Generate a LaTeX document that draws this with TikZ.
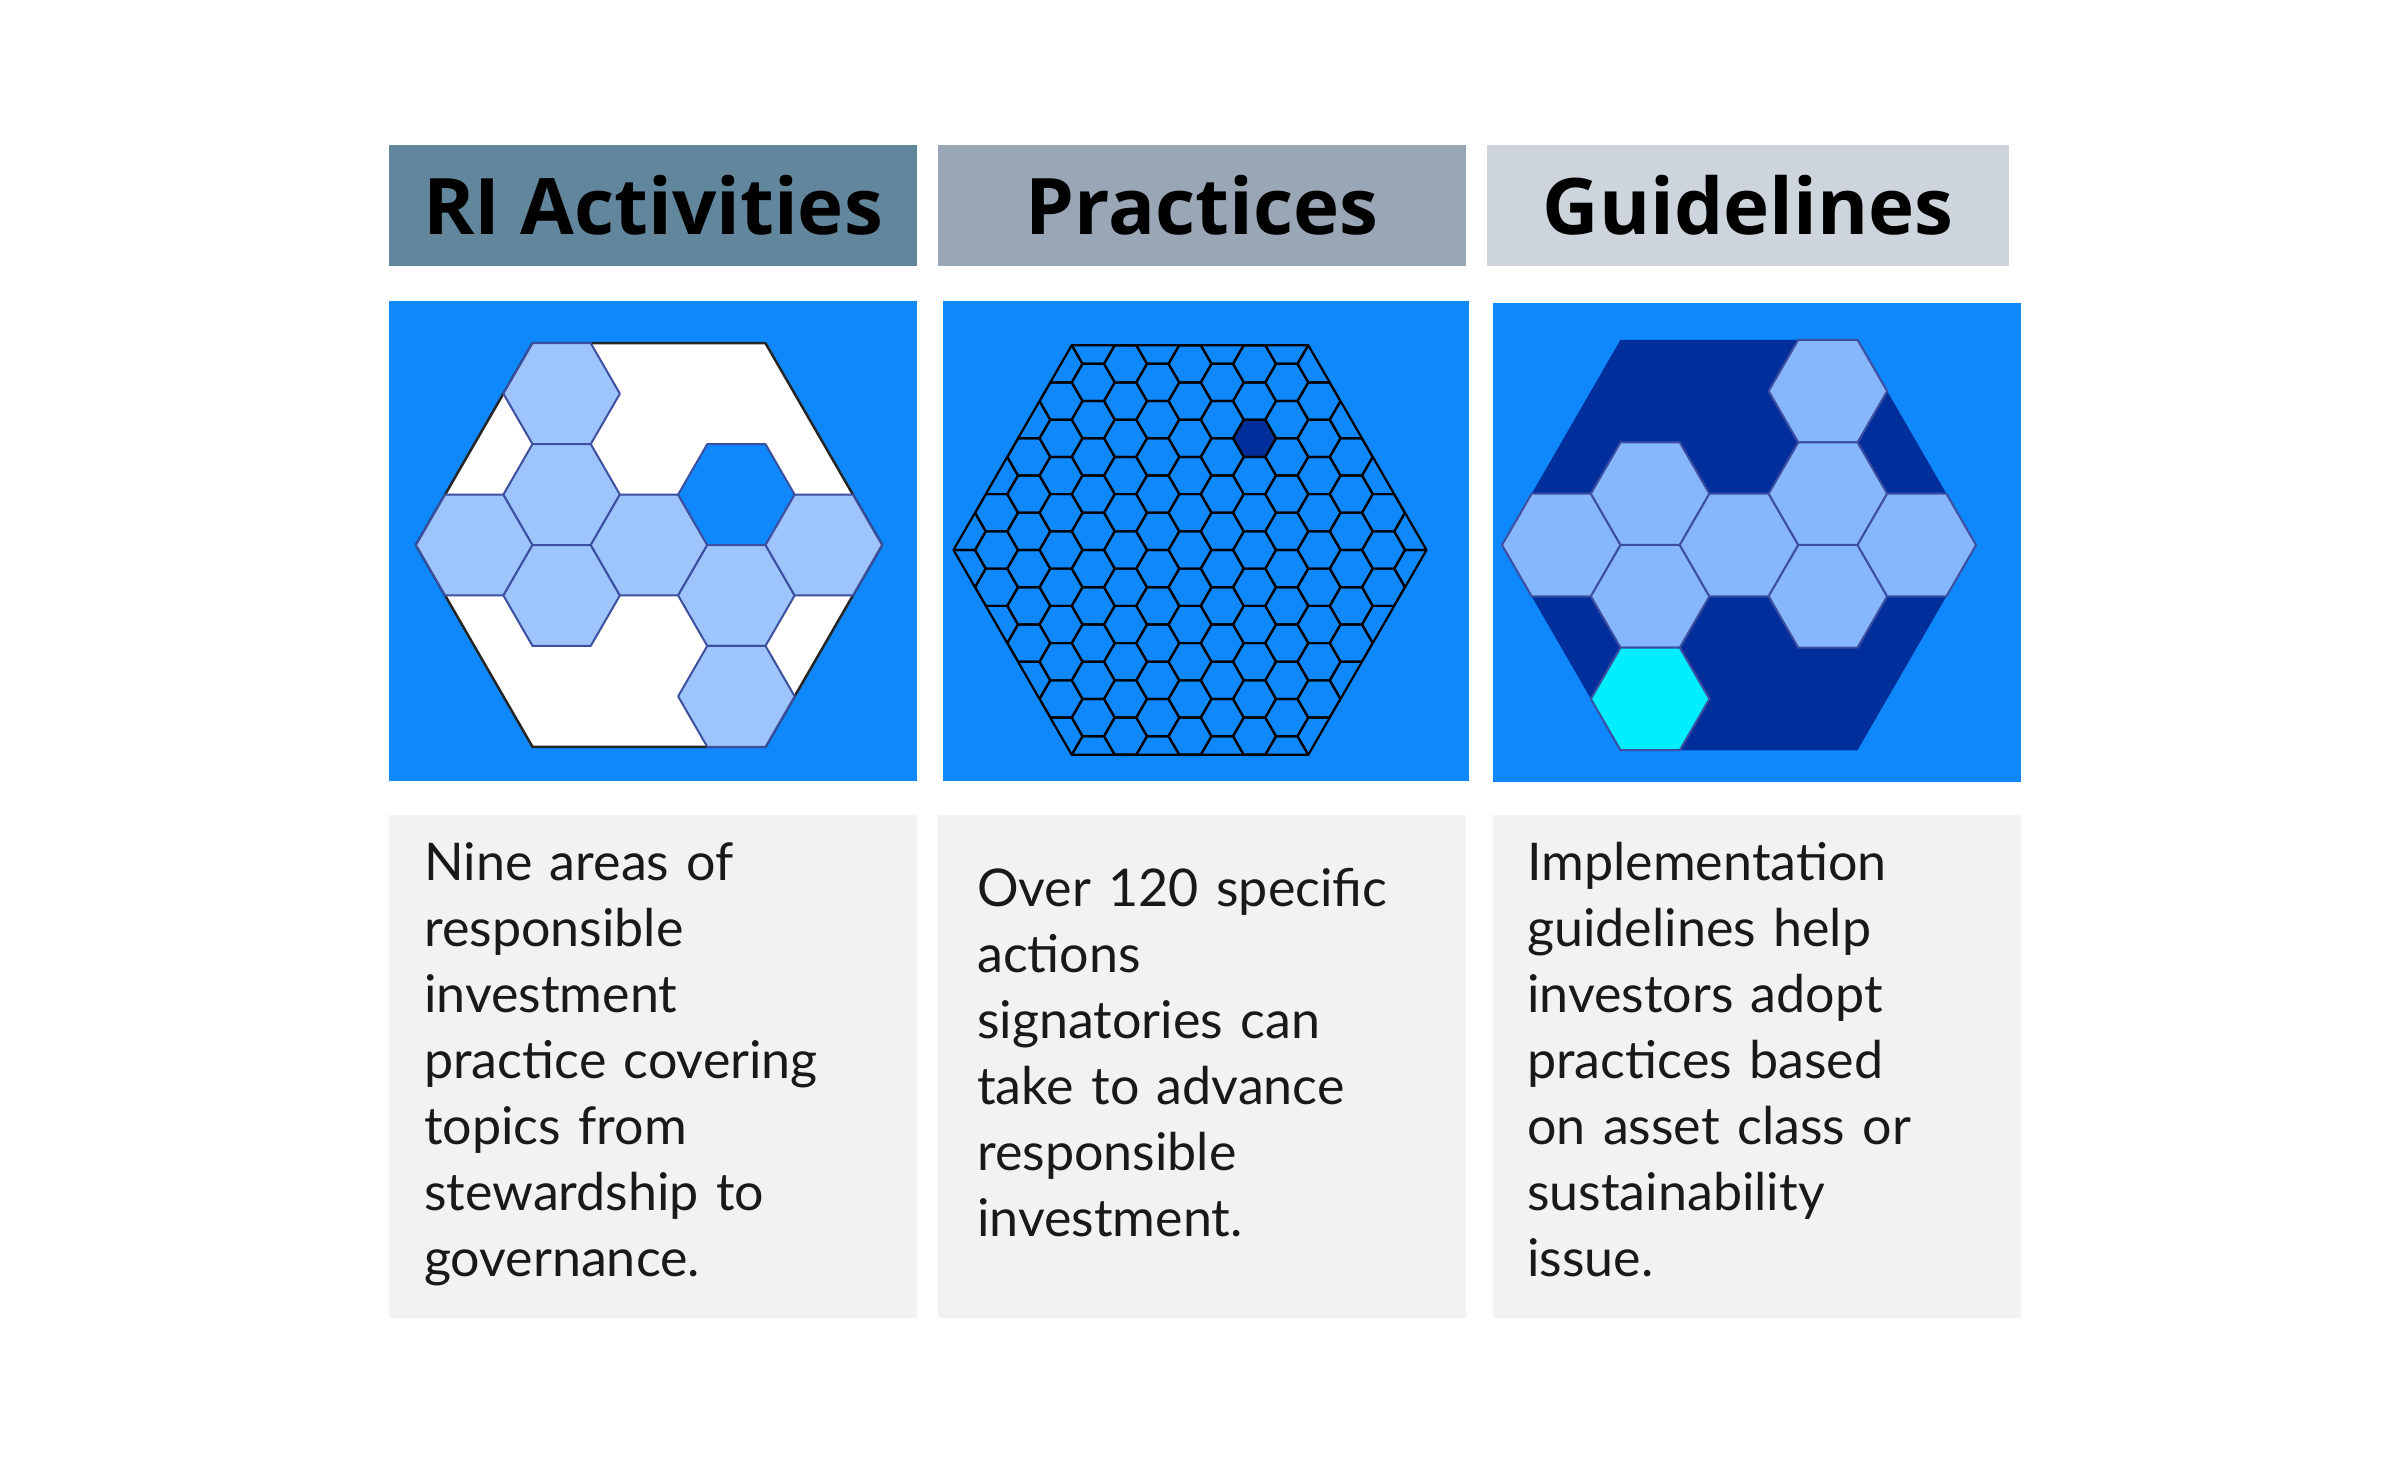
\documentclass[tikz,border=0pt]{standalone}
\usepackage{fontspec}
\setmainfont{Lato}
\newfontfamily\titlefont{Open Sans}
\definecolor{panelblue}{HTML}{0F88FC}
\definecolor{navy}{HTML}{002F9C}
\definecolor{lightA}{HTML}{9EC5FB}
\definecolor{lightB}{HTML}{86B6FB}
\definecolor{cyanhex}{HTML}{00EFFF}
\definecolor{headA}{HTML}{62869C}
\definecolor{headB}{HTML}{99A6B6}
\definecolor{headC}{HTML}{CED4DC}
\definecolor{boxgray}{HTML}{F2F2F2}
\definecolor{hexline}{HTML}{3D4FA0}
\newcommand\hexshape[3]{(#1+#3,#2) -- ++(120:#3) -- ++(180:#3) -- ++(240:#3) -- ++(300:#3) -- ++(0:#3) -- cycle}
\tikzset{
  headtext/.style={font=\titlefont\bfseries\fontsize{78}{90}\selectfont, text=black},
  bodytext/.style={font=\fontsize{52}{66}\selectfont, text=black!90, align=left, text width=470pt, inner sep=0pt, anchor=base west},
  smallhex/.style={draw=hexline, line width=2pt, line join=round},
}
\begin{document}
\begin{tikzpicture}[x=1pt,y=-1pt]
\useasboundingbox (0,0) rectangle (2400,1462);
% headers
\fill[headA] (389,145) rectangle (917,266);
\fill[headB] (938,145) rectangle (1466,266);
\fill[headC] (1487,145) rectangle (2009,266);
\node[headtext] (h1) at (653,205) {RI Activities};
\node[headtext] (h2) at (1202,205) {Practices};
\node[headtext] (h3) at (1748,205) {Guidelines};
% panels
\fill[panelblue] (389,301) rectangle (917,781);
\fill[panelblue] (943,301) rectangle (1469,781);
\fill[panelblue] (1493,303) rectangle (2021,782);
% panel 1
\def\cx{649}\def\cy{545}\def\r{58.25}\def\h{50.45}
\filldraw[fill=white, draw=black!85, line width=2.5pt, line join=round] \hexshape{\cx}{\cy}{4*\r};
\foreach \c/\k/\col in {-2/0/lightA,-1/-3/lightA,-1/-1/lightA,-1/1/lightA,0/0/lightA,1/-1/panelblue,1/1/lightA,1/3/lightA,2/0/lightA}{
  \filldraw[smallhex, fill=\col] \hexshape{\cx+1.5*\r*\c}{\cy+\h*\k}{\r};
}
% panel 2
\begin{scope}
\def\cx{1190}\def\cy{550}\def\r{21.5}\def\h{18.62}
\clip \hexshape{\cx}{\cy}{11*\r};
\fill[navy] \hexshape{\cx+3*\r}{\cy-6*\h}{\r};
\foreach \c in {-8,...,8}{
  \foreach \k in {-7,...,7}{
    \pgfmathsetmacro\yy{\cy+2*\h*\k+(mod(abs(\c),2))*\h}
    \draw[black, line width=2.2pt, line join=round] \hexshape{\cx+1.5*\r*\c}{\yy}{\r};
  }
}
\end{scope}
\draw[black, line width=2.2pt, line join=round] \hexshape{1190}{550}{11*21.5};
% panel 3
\def\cx{1739}\def\cy{545}\def\r{59.25}\def\h{51.3}
\fill[navy] \hexshape{\cx}{\cy}{4*\r};
\foreach \c/\k/\col in {-2/0/lightB,-1/-1/lightB,-1/1/lightB,-1/3/cyanhex,0/0/lightB,1/-3/lightB,1/-1/lightB,1/1/lightB,2/0/lightB}{
  \filldraw[smallhex, fill=\col] \hexshape{\cx+1.5*\r*\c}{\cy+\h*\k}{\r};
}
% text boxes
\fill[boxgray] (389,815) rectangle (917,1318);
\fill[boxgray] (938,815) rectangle (1466,1318);
\fill[boxgray] (1493,815) rectangle (2021,1318);
\node[bodytext] (t1) at (424,880) {Nine areas of\\responsible\\investment\\practice covering\\topics from\\stewardship to\\governance.};
\node[bodytext] (t2) at (977,906) {Over 120 specific\\actions\\signatories can\\take to advance\\responsible\\investment.};
\node[bodytext] (t3) at (1527,880) {Implementation\\guidelines help\\investors adopt\\practices based\\on asset class or\\sustainability\\issue.};
\end{tikzpicture}
\end{document}
